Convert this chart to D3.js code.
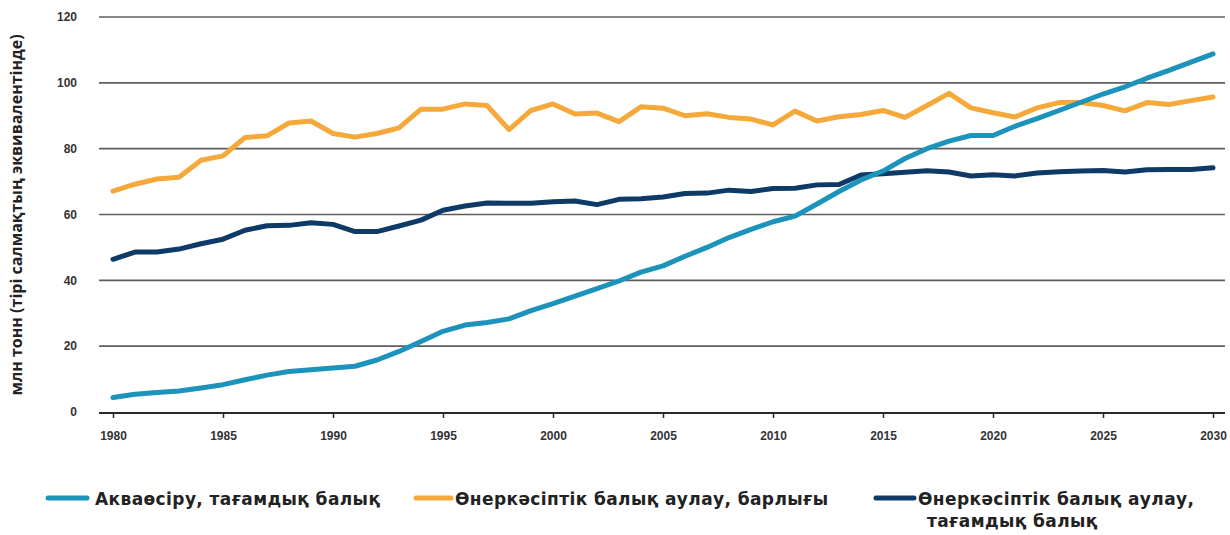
<!DOCTYPE html>
<html><head><meta charset="utf-8">
<script src="https://cdn.jsdelivr.net/npm/d3@7/dist/d3.min.js"></script>
<style>
html,body{margin:0;padding:0;background:#fff;}
svg{display:block;}
</style></head>
<body>
<svg id="chart" width="1230" height="535"></svg>
<script>
const years = d3.range(1980, 2031);
const aquaculture = [4.4,5.4,5.9,6.4,7.3,8.3,9.8,11.2,12.3,12.8,13.4,13.9,15.8,18.4,21.4,24.5,26.4,27.2,28.3,30.8,32.9,35.2,37.5,39.8,42.5,44.4,47.3,50.0,53.0,55.5,57.8,59.5,63.2,67.0,70.5,73.2,77.0,80.0,82.3,84.0,84.0,86.8,89.1,91.6,94.1,96.6,98.8,101.4,103.8,106.3,108.8];
const captureTotal = [67.1,69.2,70.8,71.3,76.5,77.8,83.4,83.9,87.8,88.4,84.6,83.5,84.6,86.3,92.0,92.0,93.6,93.1,85.8,91.6,93.6,90.5,90.8,88.2,92.7,92.3,90.0,90.6,89.5,89.0,87.2,91.4,88.4,89.7,90.4,91.6,89.5,93.1,96.8,92.4,90.9,89.6,92.4,94.0,94.0,93.1,91.5,94.0,93.4,94.6,95.7];
const captureFood = [46.4,48.6,48.6,49.5,51.1,52.5,55.2,56.6,56.7,57.5,57.0,54.8,54.8,56.5,58.3,61.3,62.6,63.5,63.4,63.4,63.9,64.1,63.0,64.6,64.8,65.3,66.4,66.5,67.4,67.0,67.9,68.0,69.0,69.1,72.0,72.4,72.8,73.3,72.9,71.7,72.1,71.7,72.6,73.0,73.2,73.4,72.9,73.6,73.7,73.7,74.2];
const yTicks = [0,20,40,60,80,100,120];
const xTicks = [1980,1985,1990,1995,2000,2005,2010,2015,2020,2025,2030];
const seriesNames = ["Акваөсіру, тағамдық балық","Өнеркәсіптік балық аулау, барлығы","Өнеркәсіптік балық аулау,","тағамдық балық"];
const yTitle = "млн тонн (тірі салмақтың эквивалентінде)";

const colors = {aqua:"#1b93bb", total:"#f6a93b", food:"#0e3a68"};
const svg = d3.select("#chart");
const x = d3.scaleLinear().domain([1980,2030]).range([113,1213]);
const y = d3.scaleLinear().domain([0,120]).range([412,17]);

// gridlines
svg.append("g").selectAll("line").data(yTicks.filter(d=>d>0)).join("line")
  .attr("x1",99).attr("x2",1225).attr("y1",d=>y(d)).attr("y2",d=>y(d))
  .attr("stroke","#5e5e5e").attr("stroke-width",1.6);

// y labels
svg.append("g").selectAll("text").data(yTicks).join("text")
  .attr("x",77).attr("y",d=>y(d)).attr("dy","0.35em").attr("text-anchor","end")
  .attr("font-family","Liberation Sans, Arial, sans-serif").attr("font-weight","bold")
  .attr("font-size",12).attr("fill","#333").text(d=>d);

// x axis
const xAxis = d3.axisBottom(x).tickValues(xTicks).tickFormat(d3.format("d")).tickSize(5).tickPadding(13);
const gx = svg.append("g").attr("transform","translate(0,413)").call(xAxis);
gx.select(".domain").attr("d","M99,0H1225").attr("stroke","#2a2a2a").attr("stroke-width",2);
gx.selectAll(".tick line").attr("stroke","#2a2a2a").attr("stroke-width",1.5);
gx.selectAll(".tick text").attr("font-family","Liberation Sans Narrow, Liberation Sans, Arial, sans-serif")
  .attr("font-weight","bold").attr("font-size",12).attr("fill","#333");

// y title
svg.append("text").attr("transform","translate(16,215) rotate(-90)").attr("text-anchor","middle")
  .attr("dy","0.35em")
  .attr("font-family","Open Sans, DejaVu Sans, sans-serif").attr("font-weight","bold").attr("font-size",16)
  .attr("fill","#222").text(yTitle);

const line = d3.line().x((d,i)=>x(years[i])).y(d=>y(d));
const series = [[captureFood,colors.food],[captureTotal,colors.total],[aquaculture,colors.aqua]];
svg.append("g").selectAll("path").data(series).join("path")
  .attr("d",d=>line(d[0])).attr("fill","none").attr("stroke",d=>d[1])
  .attr("stroke-width",5).attr("stroke-linejoin","round").attr("stroke-linecap","round");

// legend
const legend = [
  {c:colors.aqua, x1:48, x2:87, tx:95, lines:[seriesNames[0]]},
  {c:colors.total, x1:416, x2:451, tx:455, lines:[seriesNames[1]]},
  {c:colors.food, x1:876, x2:914, tx:918, lines:[seriesNames[2],seriesNames[3]]}
];
const lg = svg.append("g").selectAll("g").data(legend).join("g");
lg.append("line").attr("x1",d=>d.x1).attr("x2",d=>d.x2).attr("y1",498).attr("y2",498)
  .attr("stroke",d=>d.c).attr("stroke-width",5).attr("stroke-linecap","round");
lg.each(function(d){
  const g = d3.select(this);
  d.lines.forEach((t,i)=>{
    g.append("text").attr("x",d.tx + (i?9:0)).attr("y",499 + i*22).attr("dy","0.35em")
      .attr("font-family","DejaVu Sans, Verdana, sans-serif").attr("font-weight","bold")
      .attr("font-size",17).attr("letter-spacing",0.4).attr("fill","#222").text(t);
  });
});
</script>
</body></html>
